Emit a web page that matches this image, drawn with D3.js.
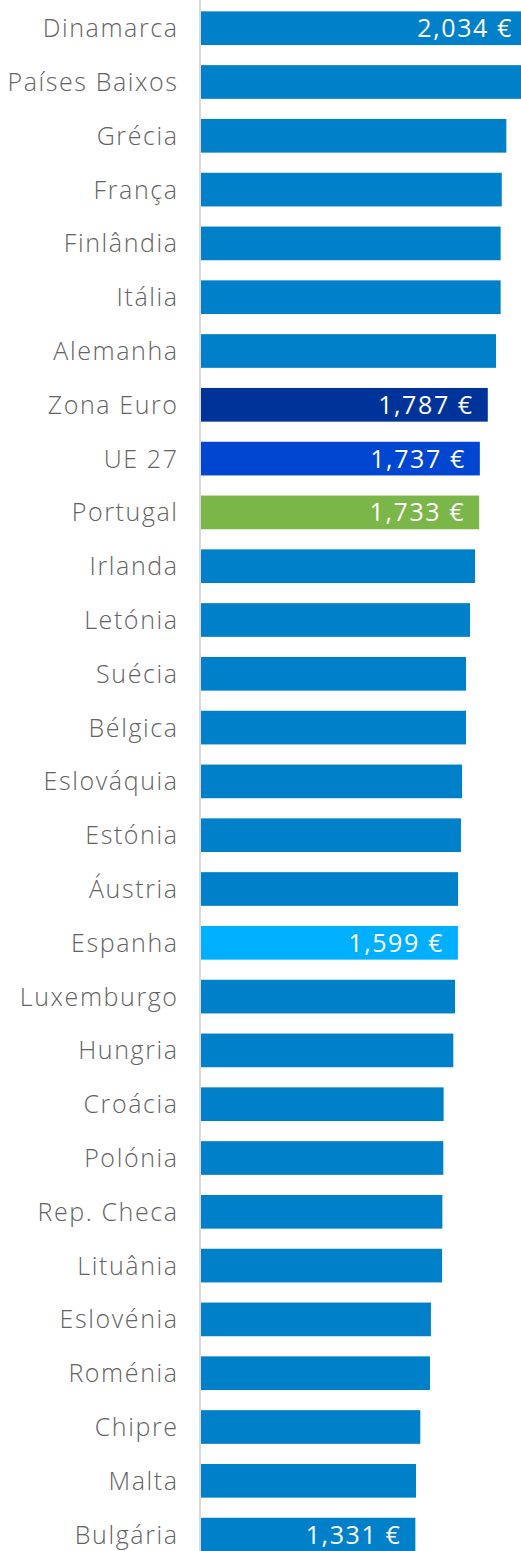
<!DOCTYPE html>
<html>
<head>
<meta charset="utf-8">
<script src="https://cdnjs.cloudflare.com/ajax/libs/d3/7.8.5/d3.min.js"></script>
<style>
  body { margin: 0; background: #fff; }
  svg { display: block; font-family: "Open Sans", sans-serif; }
</style>
</head>
<body>
<svg></svg>
<script>
// países e valores (€)
const countries = ['Dinamarca', 'Países Baixos', 'Grécia', 'França', 'Finlândia', 'Itália', 'Alemanha',
  'Zona Euro', 'UE 27', 'Portugal', 'Irlanda', 'Letónia', 'Suécia', 'Bélgica', 'Eslováquia',
  'Estónia', 'Áustria', 'Espanha', 'Luxemburgo', 'Hungria', 'Croácia', 'Polónia', 'Rep. Checa',
  'Lituânia', 'Eslovénia', 'Roménia', 'Chipre', 'Malta', 'Bulgária'];
const values = [2034, 2020, 1904, 1875, 1868, 1868, 1839,
  1787, 1737, 1733, 1707, 1675, 1650, 1650, 1625,
  1618, 1600, 1599, 1581, 1570, 1509, 1507, 1501,
  1499, 1429, 1423, 1362, 1335, 1331];
// barras com rótulo de valor
const labelled = ['Dinamarca', 'Zona Euro', 'UE 27', 'Portugal', 'Espanha', 'Bulgária'];
// cores de destaque
const highlight = { 'Zona Euro': '#00339a', 'UE 27': '#0046d0', 'Portugal': '#7ab648', 'Espanha': '#00b0ff' };

const width = 521, height = 1551;
const left = 201;
const data = countries.map((c, i) => ({ name: c, value: values[i] }));

const svg = d3.select('svg').attr('width', width).attr('height', height);

const x = d3.scaleLinear().domain([0, 2000]).range([204, 521.6]);
const y = d3.scaleBand().domain(countries)
  .range([1.3, 1.3 + 53.8 * countries.length])
  .paddingInner(0.374).paddingOuter(0.187);

const fmt = d3.format(',');

svg.append('line')
  .attr('x1', 200).attr('x2', 200)
  .attr('y1', 0).attr('y2', height)
  .attr('stroke', '#d9d9d9').attr('stroke-width', 2);

svg.append('g').selectAll('rect')
  .data(data)
  .join('rect')
    .attr('x', left)
    .attr('y', d => y(d.name))
    .attr('width', d => x(d.value) - left)
    .attr('height', y.bandwidth())
    .attr('fill', d => highlight[d.name] || '#0080c8');

svg.append('g').selectAll('text')
  .data(data)
  .join('text')
    .attr('x', 178.6)
    .attr('y', d => y(d.name) + y.bandwidth() / 2)
    .attr('dy', '0.36em')
    .attr('text-anchor', 'end')
    .attr('font-size', 25)
    .attr('font-weight', 300)
    .attr('letter-spacing', 1.6)
    .attr('fill', '#636363')
    .text(d => d.name);

svg.append('g').selectAll('text')
  .data(data.filter(d => labelled.includes(d.name)))
  .join('text')
    .attr('x', d => x(d.value) - 14)
    .attr('y', d => y(d.name) + y.bandwidth() / 2)
    .attr('dy', '0.36em')
    .attr('text-anchor', 'end')
    .attr('font-size', 25)
    .attr('font-weight', 400)
    .attr('letter-spacing', 1.6)
    .attr('fill', '#fff')
    .text(d => fmt(d.value) + ' €');
</script>
</body>
</html>
